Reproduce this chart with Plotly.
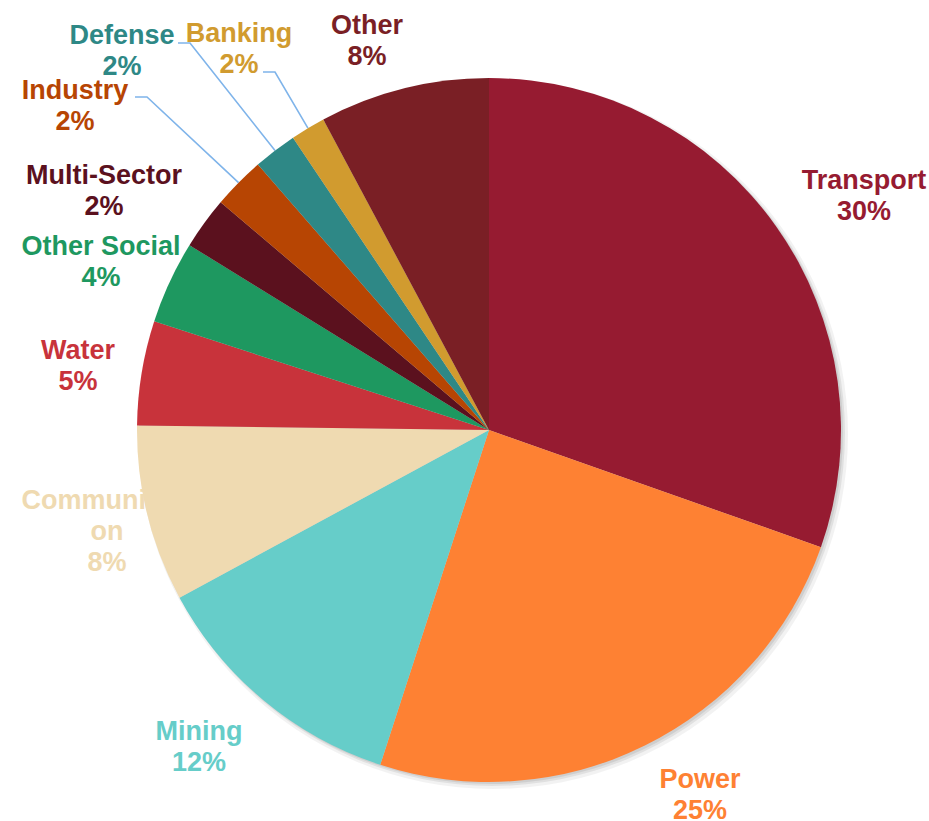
import math
import plotly.graph_objects as go

# ---- data ----
sectors = ["Transport", "Power", "Mining", "Communication", "Water", "Other Social",
           "Multi-Sector", "Industry", "Defense", "Banking", "Other"]
shares = [30.4, 24.6, 12.1, 8.1, 4.8, 3.8, 2.4, 2.4, 2.0, 1.6, 7.8]
pct_labels = ["30%", "25%", "12%", "8%", "5%", "4%", "2%", "2%", "2%", "2%", "8%"]
name_lines = [["Transport"], ["Power"], ["Mining"], ["Communicati", "on"], ["Water"],
              ["Other Social"], ["Multi-Sector"], ["Industry"], ["Defense"], ["Banking"], ["Other"]]
colors = ["#961B31", "#FE8133", "#66CDC9", "#EFDAB1", "#C8333B", "#1E9860",
          "#5B111E", "#B74503", "#2E8886", "#D19B2F", "#7A1F25"]

# ---- layout geometry (pixels) ----
W, H = 929, 821
CX, CY, R = 489, 430, 352
# label centre (x, y of first line) per sector
label_pos = [(864, 182), (700, 781), (199, 733), (107, 502), (78, 352), (101, 248),
             (104, 177), (75, 92), (122, 37), (239, 35), (367, 27)]
LINE_GAP = 31
# leader lines: (label anchor x, y, elbow x) for small slices
leaders = {"Industry": (135, 97, 147), "Defense": (178, 43, 190), "Banking": (263, 72, 275)}

fig = go.Figure()

# soft shadow behind the pie
for off, extra, alpha in [(4, 3, 0.05), (3, 1, 0.07), (2, 0, 0.08)]:
    fig.add_shape(type="circle", xref="x", yref="y", layer="below",
                  x0=CX - R - extra + off, x1=CX + R + extra + off,
                  y0=CY - R - extra + off, y1=CY + R + extra + off,
                  fillcolor=f"rgba(0,0,0,{alpha})", line=dict(width=0))

# labels as text on a hidden cartesian layer (drawn beneath the pie)
tx, ty, tt, tc = [], [], [], []
for name, lines, pct, col, (lx, ly) in zip(sectors, name_lines, pct_labels, colors, label_pos):
    for i, line in enumerate(lines + [pct]):
        tx.append(lx)
        ty.append(ly + i * LINE_GAP)
        tt.append(line)
        tc.append(col)
fig.add_trace(go.Scatter(x=tx, y=ty, text=tt, mode="text", textposition="middle center",
                         textfont=dict(family="Liberation Sans, Arial, sans-serif", size=27,
                                       color=tc, weight="bold"),
                         hoverinfo="skip", showlegend=False))

# leader lines to the slice edge, computed from the data
total = sum(shares)
cum = 0
for name, v in zip(sectors, shares):
    mid = (cum + v / 2) / total * 2 * math.pi
    cum += v
    if name in leaders:
        ax, ay, ex = leaders[name]
        px = CX + R * math.sin(mid)
        py = CY - R * math.cos(mid)
        fig.add_trace(go.Scatter(x=[ax, ex, px], y=[ay, ay, py], mode="lines",
                                 line=dict(color="#7FB4EA", width=1.6),
                                 hoverinfo="skip", showlegend=False))

fig.add_trace(go.Pie(labels=sectors, values=shares, sort=False, direction="clockwise",
                     rotation=0, textinfo="none", showlegend=False,
                     marker=dict(colors=colors, line=dict(width=0)),
                     domain=dict(x=[(CX - R) / W, (CX + R) / W],
                                 y=[1 - (CY + R) / H, 1 - (CY - R) / H])))

fig.update_layout(width=W, height=H, margin=dict(l=0, r=0, t=0, b=0),
                  paper_bgcolor="white", plot_bgcolor="rgba(0,0,0,0)", showlegend=False,
                  xaxis=dict(range=[0, W], visible=False, fixedrange=True),
                  yaxis=dict(range=[H, 0], visible=False, fixedrange=True))

fig.write_html("out.html")
